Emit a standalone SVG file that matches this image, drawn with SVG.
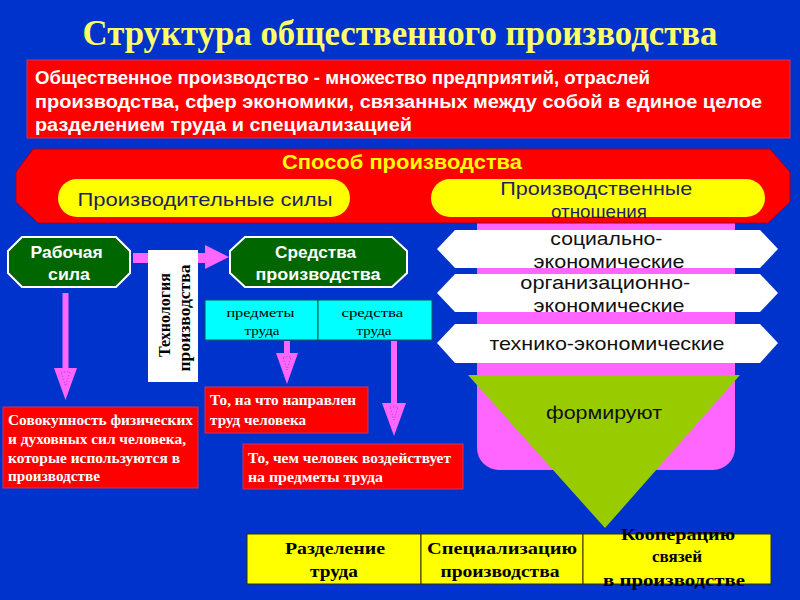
<svg xmlns="http://www.w3.org/2000/svg" width="800" height="600" viewBox="0 0 800 600">
<defs>
<style>
.sans{font-family:"Liberation Sans",Arial,sans-serif}
.serif{font-family:"Liberation Serif","Times New Roman",serif}
.pink{fill:#FF66FF}
.inner{fill:none;stroke:#B040C0;stroke-width:0.8;stroke-dasharray:1.5 1.5}
.grn{fill:#006600;stroke:#FFFFFF;stroke-width:2}
.redbox{fill:#FF0000;stroke:#CC3366;stroke-width:1}
.band{fill:#FFFFFF}
.boxtxt{font-family:"Liberation Serif","Times New Roman",serif;font-weight:bold;font-size:14px;fill:#FFFFFF}
.cell{fill:#FFFF00;stroke:#333300;stroke-width:1}
.celltxt{font-family:"Liberation Serif","Times New Roman",serif;font-weight:bold;font-size:17px;fill:#000000;text-anchor:middle}
.bandtxt{font-family:"Liberation Sans",Arial,sans-serif;font-size:19px;fill:#111111;text-anchor:middle}
</style>
</defs>
<rect x="0" y="0" width="800" height="600" fill="#0033CC"/>

<g id="title">
<text x="400" y="45" class="serif" font-weight="bold" font-size="36" fill="#FFFF66" text-anchor="middle" textLength="635" lengthAdjust="spacingAndGlyphs">Структура общественного производства</text>
</g>

<g id="definition">
<rect x="27" y="60" width="763" height="78" fill="#FF0000" stroke="#CC3366" stroke-width="1"/>
<text class="sans" font-weight="bold" font-size="18" fill="#FFFFFF" lengthAdjust="spacingAndGlyphs">
<tspan x="35" y="84" textLength="615" lengthAdjust="spacingAndGlyphs">Общественное производство - множество предприятий, отраслей</tspan>
<tspan x="35" y="108" textLength="727" lengthAdjust="spacingAndGlyphs">производства, сфер экономики, связанных между собой в единое целое</tspan>
<tspan x="35" y="131" textLength="377" lengthAdjust="spacingAndGlyphs">разделением труда и специализацией</tspan>
</text>
</g>

<g id="relations-panel">
<rect x="477" y="200" width="258" height="270" rx="22" fill="#FF66FF"/>
</g>

<g id="sposob">
<polygon points="33,149 770,149 790,172 790,202 768,223 38,223 16,202 16,172" fill="#FF0000" stroke="#990033" stroke-width="1"/>
<text x="402" y="169" class="sans" font-weight="bold" font-size="20" fill="#FFFF00" text-anchor="middle" textLength="240" lengthAdjust="spacingAndGlyphs">Способ производства</text>
</g>

<g id="sily">
<rect x="58" y="179" width="292" height="38" rx="19" fill="#FFFF00"/>
<text x="205" y="206" class="sans" font-size="19" fill="#1F1F5F" text-anchor="middle" textLength="255" lengthAdjust="spacingAndGlyphs">Производительные силы</text>
</g>

<g id="otnosheniya">
<rect x="431" y="179" width="334" height="38" rx="19" fill="#FFFF00"/>
<text class="sans" font-size="19" fill="#1F1F5F" text-anchor="middle">
<tspan x="599" y="195" textLength="192" lengthAdjust="spacingAndGlyphs">Производственные</tspan>
<tspan x="599" y="218" textLength="96" lengthAdjust="spacingAndGlyphs">отношения</tspan>
</text>
</g>

<g id="band1">
<polygon class="band" points="455,230 760,230 778,249 760,268 455,268 437,249"/>
<text class="bandtxt">
<tspan x="609" y="245" textLength="112" lengthAdjust="spacingAndGlyphs">социально-</tspan>
<tspan x="609" y="268" textLength="151" lengthAdjust="spacingAndGlyphs">экономические</tspan>
</text>
</g>

<g id="band2">
<polygon class="band" points="455,274 760,274 778,293 760,312 455,312 437,293"/>
<text class="bandtxt">
<tspan x="608" y="289" textLength="170" lengthAdjust="spacingAndGlyphs">организационно-</tspan>
<tspan x="609" y="312" textLength="151" lengthAdjust="spacingAndGlyphs">экономические</tspan>
</text>
</g>

<g id="band3">
<polygon class="band" points="455,324 760,324 778,343 760,363 455,363 437,343"/>
<text x="607" y="350" class="bandtxt" textLength="235" lengthAdjust="spacingAndGlyphs">технико-экономические</text>
</g>

<g id="formiruyut">
<polygon points="468,375 740,375 605,528" fill="#99CC00"/>
<text x="604" y="419" class="bandtxt" textLength="116" lengthAdjust="spacingAndGlyphs">формируют</text>
</g>

<g id="connectors">
<path class="pink" d="M133,253 H205 V245 L229,257 L205,269 V263 H133 Z"/>
<path class="pink" d="M62.5,293 H68.5 V368 H77 L65.5,400 L54,368 H62.5 Z"/>
<polygon class="inner" points="61,372 70,372 65.5,386"/>
<path class="pink" d="M284,341 H290 V353 H298 L287,384 L276,353 H284 Z"/>
<polygon class="inner" points="283,357 291,357 287,370"/>
<path class="pink" d="M391,341 H397 V403 H406 L394,436 L382,403 H391 Z"/>
<polygon class="inner" points="390,407 398,407 394,420"/>
</g>

<g id="tekhnologiya">
<rect x="148" y="250" width="50" height="132" fill="#FFFFFF"/>
<text transform="translate(170,315) rotate(-90)" class="serif" font-weight="bold" font-size="16" fill="#000000" text-anchor="middle">Технология</text>
<text transform="translate(190,318) rotate(-90)" class="serif" font-weight="bold" font-size="16" fill="#000000" text-anchor="middle" textLength="107" lengthAdjust="spacingAndGlyphs">производства</text>
</g>

<g id="rabochaya-sila">
<polygon class="grn" points="22,237 116,237 130,251 130,273 116,287 22,287 8,273 8,251"/>
<text class="sans" font-weight="bold" font-size="17" fill="#FFFFFF" text-anchor="middle">
<tspan x="69" y="258" textLength="72" lengthAdjust="spacingAndGlyphs">Рабочая</tspan>
<tspan x="69" y="280" textLength="42" lengthAdjust="spacingAndGlyphs">сила</tspan>
</text>
</g>

<g id="sredstva-proizvodstva">
<polygon class="grn" points="245,237 392,237 407,251 407,273 392,287 245,287 230,273 230,251"/>
<text class="sans" font-weight="bold" font-size="17" fill="#FFFFFF" text-anchor="middle">
<tspan x="318" y="258" textLength="81" lengthAdjust="spacingAndGlyphs">Средства</tspan>
<tspan x="318" y="280" textLength="125" lengthAdjust="spacingAndGlyphs">производства</tspan>
</text>
</g>

<g id="trud-table">
<rect x="205" y="300" width="113" height="40" fill="#00FFFF" stroke="#005555" stroke-width="1"/>
<rect x="318" y="300" width="114" height="40" fill="#00FFFF" stroke="#005555" stroke-width="1"/>
<text class="serif" font-size="13" fill="#000000" text-anchor="middle">
<tspan x="262" y="317" textLength="68" lengthAdjust="spacingAndGlyphs">предметы</tspan>
<tspan x="262" y="335" textLength="35" lengthAdjust="spacingAndGlyphs">труда</tspan>
</text>
<text class="serif" font-size="13" fill="#000000" text-anchor="middle">
<tspan x="374" y="317" textLength="62" lengthAdjust="spacingAndGlyphs">средства</tspan>
<tspan x="374" y="335" textLength="35" lengthAdjust="spacingAndGlyphs">труда</tspan>
</text>
</g>

<g id="box-sovokupnost">
<rect class="redbox" x="3" y="407" width="195" height="81"/>
<text class="boxtxt">
<tspan x="8" y="425" textLength="185" lengthAdjust="spacingAndGlyphs">Совокупность физических</tspan>
<tspan x="8" y="444" textLength="178" lengthAdjust="spacingAndGlyphs">и духовных сил человека,</tspan>
<tspan x="8" y="463" textLength="172" lengthAdjust="spacingAndGlyphs">которые используются в</tspan>
<tspan x="8" y="481" textLength="92" lengthAdjust="spacingAndGlyphs">производстве</tspan>
</text>
</g>

<g id="box-napravlen">
<rect class="redbox" x="205" y="387" width="163" height="46"/>
<text class="boxtxt">
<tspan x="210" y="405" textLength="146" lengthAdjust="spacingAndGlyphs">То, на что направлен</tspan>
<tspan x="210" y="425" textLength="96" lengthAdjust="spacingAndGlyphs">труд человека</tspan>
</text>
</g>

<g id="box-vozdeystvuet">
<rect class="redbox" x="243" y="444" width="220" height="45"/>
<text class="boxtxt">
<tspan x="248" y="463" textLength="203" lengthAdjust="spacingAndGlyphs">То, чем человек воздействует</tspan>
<tspan x="248" y="482" textLength="135" lengthAdjust="spacingAndGlyphs">на  предметы труда</tspan>
</text>
</g>

<g id="bottom-table">
<rect class="cell" x="247" y="534" width="174" height="50"/>
<rect class="cell" x="421" y="534" width="162" height="50"/>
<rect class="cell" x="583" y="534" width="188" height="50"/>
<text class="celltxt"><tspan x="335" y="554" textLength="100" lengthAdjust="spacingAndGlyphs">Разделение</tspan><tspan x="334" y="577" textLength="48" lengthAdjust="spacingAndGlyphs">труда</tspan></text>
<text class="celltxt"><tspan x="502" y="554" textLength="150" lengthAdjust="spacingAndGlyphs">Специализацию</tspan><tspan x="500" y="577" textLength="119" lengthAdjust="spacingAndGlyphs">производства</tspan></text>
<text class="celltxt"><tspan x="678" y="540" textLength="114" lengthAdjust="spacingAndGlyphs">Кооперацию</tspan><tspan x="677" y="562" textLength="50" lengthAdjust="spacingAndGlyphs">связей</tspan><tspan x="674" y="586" textLength="142" lengthAdjust="spacingAndGlyphs">в производстве</tspan></text>
</g>
</svg>
